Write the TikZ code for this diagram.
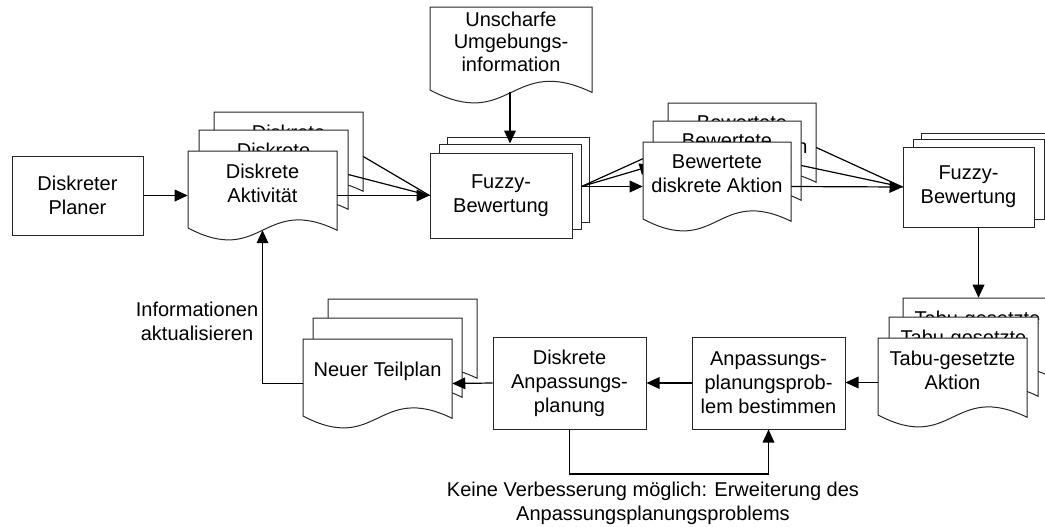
\documentclass[tikz,border=0pt]{standalone}
\usepackage{fontspec}
\setmainfont{Liberation Sans}
\usetikzlibrary{arrows.meta}

\tikzset{
  shapeline/.style={draw=black!85, line width=0.75pt, fill=white},
  txt/.style={font=\fontsize{15}{18}\selectfont, align=center, inner sep=0pt},
  procbox/.style={shapeline, rectangle, inner sep=0pt, txt},
  docframe/.style={rectangle, draw=none, inner sep=0pt},
  conn/.style={draw=black, line width=0.9pt},
  arr/.style={conn, -{Triangle[length=9.75pt,width=8.75pt]}},
}

% document symbol with wavy lower edge:
% [text options]{name}{left x}{top y}{width}{height}{text}
\newcommand\docshape[7][]{%
  \draw[shapeline] (#3,#4) -- ({#3+#5},#4) -- ({#3+#5},{#4+0.89*#6})
    .. controls ({#3+0.5*#5},{#4+0.485*#6}) and ({#3+0.5*#5},{#4+1.305*#6})
    .. (#3,{#4+0.865*#6}) -- cycle;
  \node[docframe, minimum width={#5*0.75pt}, minimum height={#6*0.75pt}]
    (#2) at ({#3+0.5*#5},{#4+0.5*#6}) {};
  \coordinate (#2-w) at ({#3+0.5*#5},{#4+0.89*#6});
  \node[txt,#1] (#2-t) at ({#3+0.5*#5},{#4+0.36*#6}) {#7};
}

\begin{document}
\begin{tikzpicture}[x=0.75pt,y=-0.75pt]
\useasboundingbox (0,0) rectangle (1045,526);

% planner
\node[procbox, minimum width=98.25pt, minimum height=59.25pt] (planer) at (77.5,195.5) {Diskreter\\Planer};

% discrete activities
\docshape{da3}{214}{112}{149}{89}{Diskrete\\Aktivität}
\docshape{da2}{199}{130}{149}{89}{Diskrete\\Aktivität}
\docshape{da1}{188}{151}{149}{89}{Diskrete\\Aktivität}
\draw[arr] (planer.east) -- (da1.west);

% fuzzy environment information
\docshape[font=\fontsize{15}{17}\selectfont]{unsch}{430}{7}{162}{96}{Unscharfe\\Umgebungs-\\information}

% first fuzzy evaluation
\node[procbox, minimum width=106.5pt, minimum height=63.75pt] (fz1c) at (518,179.5) {};
\node[procbox, minimum width=106.5pt, minimum height=63.75pt] (fz1b) at (510,186.5) {};
\node[procbox, minimum width=106.5pt, minimum height=63.75pt] (fz1a) at (501,195.5) {Fuzzy-\\Bewertung};

\draw[conn] (da3.east) -- (fz1a.west);
\draw[conn] (da2.east) -- (fz1a.west);
\draw[arr] (da1.east) -- (fz1a.west);
\draw[arr] (fz1b.north |- unsch-w) -- (fz1b.north);

% evaluated discrete actions
\docshape{bw3}{668}{103}{148}{89}{Bewertete\\diskrete Aktion}
\docshape{bw2}{653}{121}{148}{89}{Bewertete\\diskrete Aktion}
\draw[arr] (fz1b.east) -- (bw3.west);
\draw[arr] (fz1b.east) -- (bw2.west);
\docshape{bw1}{643}{142}{148}{89}{Bewertete\\diskrete Aktion}
\draw[arr] (fz1b.east) -- (bw1.west);

% second fuzzy evaluation
\node[procbox, minimum width=98.25pt, minimum height=60pt] (fz2c) at (986.5,173) {};
\node[procbox, minimum width=98.25pt, minimum height=60pt] (fz2b) at (978.5,179) {};
\node[procbox, minimum width=98.25pt, minimum height=60pt] (fz2a) at (968.5,187) {Fuzzy-\\Bewertung};

\draw[conn] (bw3.east) -- (fz2a.west);
\draw[conn] (bw2.east) -- (fz2a.west);
\draw[arr] (bw1.east) -- (fz2a.west);

% tabu actions
\docshape{tb3}{903}{298}{149}{89}{Tabu-gesetzte\\Aktion}
\docshape{tb2}{889}{317}{149}{89}{Tabu-gesetzte\\Aktion}
\docshape{tb1}{878}{338}{149}{89}{Tabu-gesetzte\\Aktion}
\draw[arr] (fz2b.south |- fz2a.south) -- (fz2b.south |- tb3.north);

% adaptation planning
\node[procbox, minimum width=114.75pt, minimum height=69pt] (anp) at (768.5,383) {Anpassungs-\\planungsprob-\\lem bestimmen};
\node[procbox, minimum width=114.75pt, minimum height=69pt] (dap) at (569.5,383) {Diskrete\\Anpassungs-\\planung};
\draw[arr] (tb1.west) -- (tb1.west -| anp.east);
\draw[arr] (anp.west) -- (dap.east);

% new partial plans
\docshape{nt3}{328}{299}{149}{89}{}
\docshape{nt2}{313}{318}{149}{89}{}
\docshape{nt1}{303}{339}{149}{89}{Neuer Teilplan}
\draw[arr] (dap.west) -- (nt1.east);

% feedback to the activities
\draw[arr] (nt1.west) -| (da1-w);
\node[txt] (info) at (197,321) {Informationen\\aktualisieren};

% loop when no improvement is possible
\coordinate (loopy) at (0,474);
\draw[arr] (dap.south) -- (dap.south |- loopy) -| (anp.south);
\node[txt] (nobetter) at (653,503) {Keine Verbesserung möglich: Erweiterung des\\Anpassungsplanungsproblems};
\end{tikzpicture}
\end{document}
